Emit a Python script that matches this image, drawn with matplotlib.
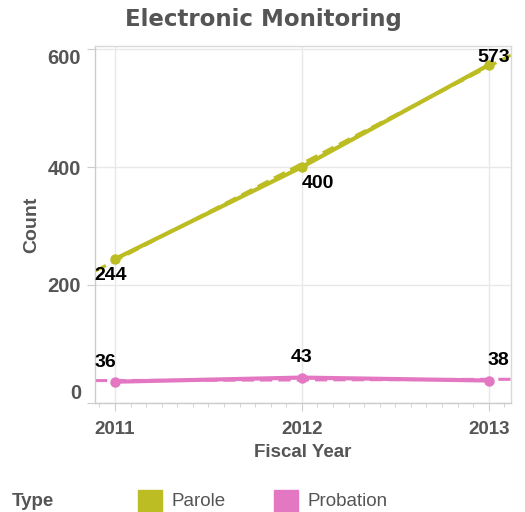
import matplotlib
matplotlib.use("Agg")
import matplotlib.pyplot as plt
from matplotlib.ticker import MultipleLocator
import numpy as np

years = [2011, 2012, 2013]
parole = [244, 400, 573]
probation = [36, 43, 38]
y_ticks = [0, 200, 400, 600]

c_parole = "#bcbd22"
c_prob = "#e377c2"
gray = "#555555"

plt.rcParams["font.family"] = ["Liberation Sans", "DejaVu Sans"]

fig = plt.figure(figsize=(5.25, 5.12), dpi=100)
ax = fig.add_axes([0.181, 0.213, 0.792, 0.697])

x0, x1 = 2010.893, 2013.118
ax.set_xlim(x0, x1)
ax.set_ylim(0, 605)

# trend lines (dashed, full width)
xs = np.array([x0, x1])
for vals, col in [(parole, c_parole), (probation, c_prob)]:
    k, b = np.polyfit(years, vals, 1)
    ax.plot(xs, k * xs + b, color=col, lw=2.2, ls=(0, (4, 2)), zorder=2)
    ax.plot(years, vals, color=col, lw=3, marker="o", ms=6.5, zorder=3)

# data labels
lab = dict(fontsize=14, fontweight="bold", color="black", zorder=5)
ax.annotate(str(parole[0]), (years[0], parole[0]), xytext=(-15, -6),
            textcoords="offset points", ha="left", va="top", **lab)
ax.annotate(str(parole[1]), (years[1], parole[1]), xytext=(0, -6),
            textcoords="offset points", ha="left", va="top", **lab)
ax.annotate(str(parole[2]), (years[2], parole[2]), xytext=(-8, -1),
            textcoords="offset points", ha="left", va="bottom", **lab)
ax.annotate(str(probation[0]), (years[0], probation[0]), xytext=(-15, 8),
            textcoords="offset points", ha="left", va="bottom", **lab)
ax.annotate(str(probation[1]), (years[1], probation[1]), xytext=(0, 8),
            textcoords="offset points", ha="center", va="bottom", **lab)
ax.annotate(str(probation[2]), (years[2], probation[2]), xytext=(-1, 8),
            textcoords="offset points", ha="left", va="bottom", **lab)

# axes styling
ax.set_xticks(years)
ax.set_xticklabels([str(y) for y in years])
ax.xaxis.set_minor_locator(MultipleLocator(1 / 12))
ax.set_yticks(y_ticks)
ax.set_yticklabels([str(v) for v in y_ticks])
ax.grid(True, color="#e8e8e8", lw=1, zorder=0)
ax.set_axisbelow(True)
for s in ax.spines.values():
    s.set_color("#d9d9d9")
    s.set_linewidth(1)
ax.spines["left"].set_color("#cccccc")
ax.spines["bottom"].set_color("#cccccc")

ax.tick_params(axis="y", length=6, color="#cccccc", labelsize=14.5,
               labelcolor=gray, pad=4)
ax.tick_params(axis="x", which="major", length=6, color="#cccccc",
               labelsize=13.5, labelcolor=gray, pad=7)
ax.tick_params(axis="x", which="minor", length=3, color="#cccccc")
for t in ax.get_xticklabels() + ax.get_yticklabels():
    t.set_fontweight("bold")
yl = ax.get_yticklabels()
yl[0].set_va("bottom")
yl[-1].set_va("top")

ax.set_ylabel("Count", fontsize=14, fontweight="bold", color=gray, labelpad=5)
ax.set_xlabel("Fiscal Year", fontsize=13.5, fontweight="bold", color=gray, labelpad=4)
fig.text(0.501, 0.961, "Electronic Monitoring", ha="center", va="center",
         fontsize=16.5, fontweight="bold", color=gray, family="DejaVu Sans")

# legend
fig.text(0.023, 0.02, "Type", ha="left", va="center", fontsize=13.5,
         fontweight="bold", color=gray)
for xl, name, col in [(0.263, "Parole", c_parole), (0.522, "Probation", c_prob)]:
    fig.patches.append(plt.Rectangle((xl, 0.0), 0.045, 0.043, color=col,
                                     transform=fig.transFigure, figure=fig))
    fig.text(xl + 0.063, 0.02, name, ha="left", va="center", fontsize=13.5,
             color=gray)

fig.savefig("out.png", dpi=100)
